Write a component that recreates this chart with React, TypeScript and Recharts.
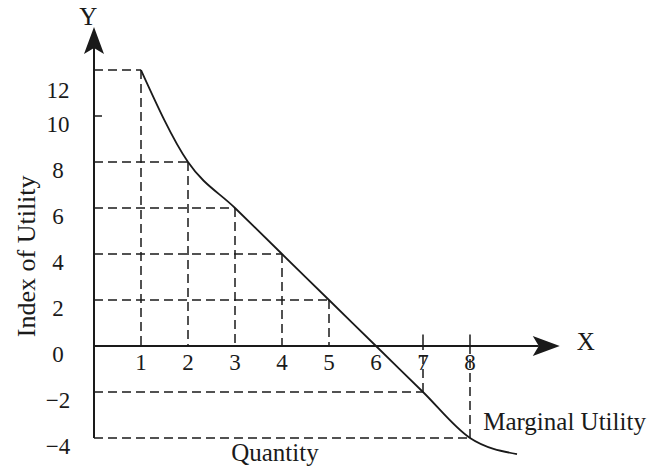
import { ComposedChart, Line, XAxis, YAxis, ReferenceLine, ReferenceDot } from 'recharts';

// marginal utility schedule
const quantity = [1, 2, 3, 4, 5, 6, 7, 8];
const marginalUtility = [12, 8, 6, 4, 2, 0, -2, -4];
// the curve runs on a little past the last unit
const tailQuantity = [9];
const tailUtility = [-4.7];

const yTicks = [-4, -2, 0, 2, 4, 6, 8, 10, 12];
const xTicks = [1, 2, 3, 4, 5, 6, 7, 8];

const INK = '#1a1a1a';
const FONT = '"Liberation Serif", "DejaVu Serif", serif';
const FS = 23;
const WORD_FS = 25;

const curveData = [...quantity, ...tailQuantity].map((q, i) => ({
  q,
  mu: [...marginalUtility, ...tailUtility][i],
}));

// the "12" label sits a bit low in the original
const tickNudge: Record<number, number> = { 12: 12 };

const fmt = (v: number) => (v < 0 ? `\u2212${Math.abs(v)}` : `${v}`);

const YTick = ({ x, y, payload }: any) => (
  <text
    x={x - 36}
    y={y + (tickNudge[payload.value] ?? 0)}
    dy={16}
    textAnchor="middle"
    fontFamily={FONT}
    fontSize={FS}
    fill={INK}
  >
    {fmt(payload.value)}
  </text>
);

const ArrowLine = (props: any) => {
  const { x1, y1, x2, y2 } = props;
  const dx = x2 - x1;
  const dy = y2 - y1;
  const len = Math.hypot(dx, dy) || 1;
  const ux = dx / len;
  const uy = dy / len;
  const px = -uy;
  const py = ux;
  const L = 27;
  const W = 10;
  const notch = 6;
  const bx = x2 - ux * L;
  const by = y2 - uy * L;
  const nx = x2 - ux * (L - notch);
  const ny = y2 - uy * (L - notch);
  const pts = [
    [x2, y2],
    [bx + px * W, by + py * W],
    [nx, ny],
    [bx - px * W, by - py * W],
  ]
    .map((p) => p.join(','))
    .join(' ');
  return (
    <g>
      <line x1={x1} y1={y1} x2={nx} y2={ny} stroke={INK} strokeWidth={2} />
      <polygon points={pts} fill={INK} />
    </g>
  );
};

const dash = { stroke: INK, strokeWidth: 1.5, strokeDasharray: '9 5' };
const labelStyle = { fontFamily: FONT, fontSize: WORD_FS, fill: INK };

export default function App() {
  return (
    <div style={{ position: 'absolute', left: 0, top: 0, background: '#fff' }}>
      <ComposedChart
        width={647}
        height={466}
        data={curveData}
        margin={{ top: 24, right: 83, bottom: 5, left: 0 }}
      >
        <XAxis dataKey="q" type="number" domain={[0, 10]} allowDataOverflow hide />
        <YAxis
          type="number"
          domain={[-5, 14]}
          allowDataOverflow
          ticks={yTicks}
          width={94}
          axisLine={false}
          tickLine={false}
          tickSize={0}
          tickMargin={0}
          tick={<YTick />}
        />

        {/* dashed guides from each point to both axes */}
        {quantity.map((q, i) => {
          const v = marginalUtility[i];
          if (v === 0) return null;
          return (
            <ReferenceLine
              key={`h${q}`}
              segment={[{ x: 0, y: v }, { x: q, y: v }]}
              ifOverflow="visible"
              {...dash}
            />
          );
        })}
        {quantity.map((q, i) => {
          const v = marginalUtility[i];
          if (v === 0) return null;
          return (
            <ReferenceLine
              key={`v${q}`}
              segment={[{ x: q, y: v }, { x: q, y: 0 }]}
              ifOverflow="visible"
              {...dash}
            />
          );
        })}
        {/* small ticks above the axis where the curve is below it */}
        {quantity.map((q, i) =>
          marginalUtility[i] < 0 ? (
            <ReferenceLine
              key={`t${q}`}
              segment={[{ x: q, y: 0 }, { x: q, y: 0.5 }]}
              ifOverflow="visible"
              stroke={INK}
              strokeWidth={1.5}
            />
          ) : null
        )}
        <ReferenceLine
          segment={[{ x: 0, y: 10 }, { x: 0.17, y: 10 }]}
          ifOverflow="visible"
          stroke={INK}
          strokeWidth={1.5}
        />

        {/* axes with arrowheads */}
        <ReferenceLine
          segment={[{ x: 0, y: -4 }, { x: 0, y: 13.87 }]}
          ifOverflow="visible"
          shape={<ArrowLine />}
        />
        <ReferenceLine
          segment={[{ x: 0, y: 0 }, { x: 9.91, y: 0 }]}
          ifOverflow="visible"
          shape={<ArrowLine />}
        />

        <Line
          dataKey="mu"
          type="monotone"
          stroke={INK}
          strokeWidth={1.8}
          dot={false}
          activeDot={false}
          isAnimationActive={false}
        />

        {xTicks.map((q) => (
          <ReferenceDot
            key={`xl${q}`}
            x={q}
            y={0}
            r={0}
            ifOverflow="visible"
            label={{ value: q, position: 'bottom', offset: 8, ...labelStyle, fontSize: FS }}
          />
        ))}

        <ReferenceDot x={-0.12} y={13.87} r={0} ifOverflow="visible"
          label={{ value: 'Y', position: 'top', offset: 2, ...labelStyle }} />
        <ReferenceDot x={9.91} y={0.2} r={0} ifOverflow="visible"
          label={{ value: 'X', position: 'right', offset: 17, ...labelStyle }} />
        <ReferenceDot x={3.85} y={-4.6} r={0} ifOverflow="visible"
          label={{ value: 'Quantity', position: 'center', ...labelStyle }} />
        <ReferenceDot x={8.28} y={-3.26} r={0} ifOverflow="visible"
          label={{ value: 'Marginal Utility', position: 'right', offset: 0, ...labelStyle }} />
        <ReferenceDot x={-1.45} y={3.9} r={0} ifOverflow="visible"
          label={{ value: 'Index of Utility', position: 'center', angle: -90, ...labelStyle, fontSize: 26 }} />
      </ComposedChart>
    </div>
  );
}
